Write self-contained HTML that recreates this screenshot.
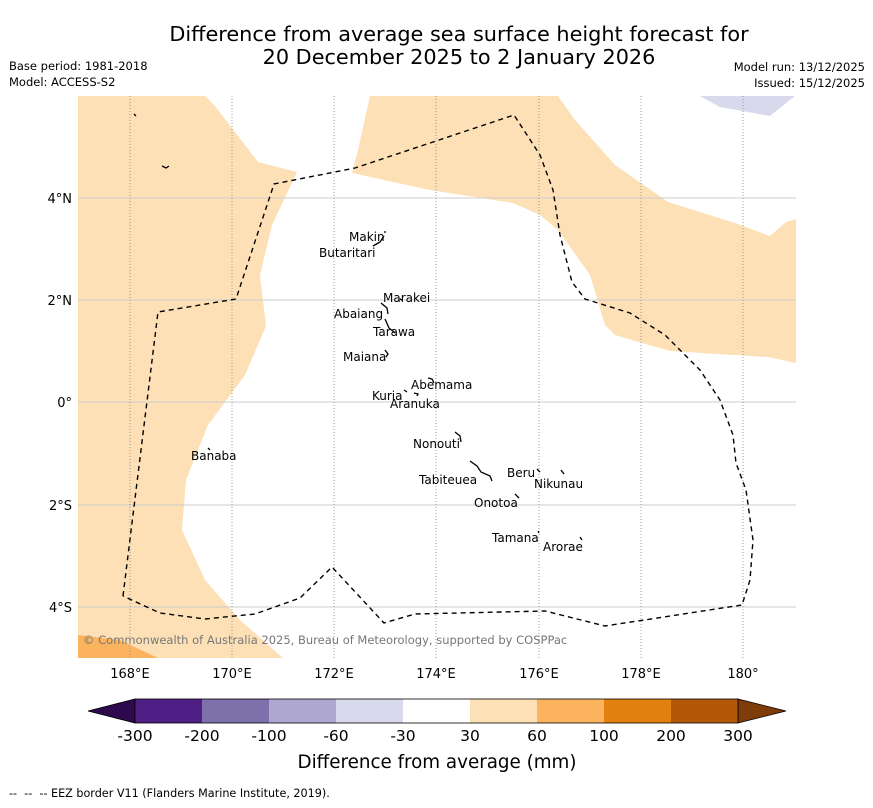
<!DOCTYPE html>
<html><head><meta charset="utf-8"><style>
body{margin:0;background:#fff;font-family:"DejaVu Sans","Liberation Sans",sans-serif}
svg text{font-family:"DejaVu Sans","Liberation Sans",sans-serif}
</style></head><body>
<svg width="873" height="804" viewBox="0 0 873 804" xmlns="http://www.w3.org/2000/svg">
<text x="459" y="41" font-size="20.8" text-anchor="middle">Difference from average sea surface height forecast for</text>
<text x="459" y="64" font-size="20.8" text-anchor="middle">20 December 2025 to 2 January 2026</text>
<text x="9" y="70" font-size="11.5">Base period: 1981-2018</text>
<text x="9" y="86" font-size="11.5">Model: ACCESS-S2</text>
<text x="865" y="71" font-size="11.5" text-anchor="end">Model run: 13/12/2025</text>
<text x="865" y="87" font-size="11.5" text-anchor="end">Issued: 15/12/2025</text>
<g>
<clipPath id="c"><rect x="78" y="96" width="718" height="562"/></clipPath>
<g clip-path="url(#c)">
<path fill="#fde0b6" d="M78,96 L205,96 L215,106 L258,162 L297,172 L272,225 L260,275 L266,326 L245,375 L208,425 L186,480 L182,530 L205,580 L240,620 L283,658 L78,658Z"/>
<path fill="#fbb35e" d="M78,635 L120,640 L158,658 L78,658Z"/>
<path fill="#fde0b6" d="M370,96 L558,96 L575,120 L615,165 L668,202 L735,223 L770,236 L786,222 L796,219 L796,363 L768,357 L735,355 L670,351 L615,335 L605,325 L590,275 L558,230 L540,215 L513,203 L430,190 L352,173 L358,150Z"/>
<path fill="#d8d9ec" d="M700,96 L795,96 L770,116 L720,107Z"/>
</g>
<g stroke-width="1">
<g stroke="#ccc"><line x1="78" x2="796" y1="198" y2="198"/><line x1="78" x2="796" y1="300" y2="300"/><line x1="78" x2="796" y1="402" y2="402"/><line x1="78" x2="796" y1="505" y2="505"/><line x1="78" x2="796" y1="607" y2="607"/></g>
<g stroke="#999" stroke-dasharray="1,2"><line x1="130" x2="130" y1="96" y2="658"/><line x1="232" x2="232" y1="96" y2="658"/><line x1="334" x2="334" y1="96" y2="658"/><line x1="436" x2="436" y1="96" y2="658"/><line x1="539" x2="539" y1="96" y2="658"/><line x1="641" x2="641" y1="96" y2="658"/><line x1="743" x2="743" y1="96" y2="658"/></g>
</g>
<path fill="none" stroke="#000" stroke-width="1.4" stroke-dasharray="5,4" d="M123,596 L158,312 L236,299 L274,184 L355,168 L514,115 L540,155 L553,190 L560,235 L572,282 L585,299 L630,313 L665,335 L700,370 L720,400 L733,435 L736,463 L746,490 L753,540 L750,580 L742,605 L605,626 L545,611 L415,614 L384,623 L332,567 L300,598 L255,614 L205,619 L160,613 L123,596"/>
<g fill="none" stroke="#000" stroke-width="1.3">
<path d="M373,246 L380,242 L384,236 M385,231 L385,233"/><path d="M381,303 L387,308 L388,314 M385,319 L389,328 L395,333"/><path d="M385,350 L388,354 L386,357"/><path d="M428,378 L432,379 L434,383 M404,390 L407,392 M414,393 L418,394 L417,396"/><path d="M455,432 L460,436 L461,442"/><path d="M470,461 L477,466 L481,472 L490,476 L492,481"/><path d="M515,494 L519,498"/><path d="M537,469 L540,472 M561,470 L564,474"/><path d="M538,531 L539,533 M580,537 L582,540"/><path d="M134,114 L136,116 M162,166 L166,168 L169,166 M208,448 L210,450 M400,299 L402,300"/>
</g>
<g font-size="12">
<text x="349" y="241">Makin</text><text x="319" y="257">Butaritari</text><text x="383" y="302">Marakei</text><text x="334" y="318">Abaiang</text><text x="373" y="336">Tarawa</text><text x="343" y="361">Maiana</text><text x="411" y="389">Abemama</text><text x="372" y="400">Kuria</text><text x="390" y="408">Aranuka</text><text x="413" y="448">Nonouti</text><text x="191" y="460">Banaba</text><text x="507" y="477">Beru</text><text x="419" y="484">Tabiteuea</text><text x="534" y="488">Nikunau</text><text x="474" y="507">Onotoa</text><text x="492" y="542">Tamana</text><text x="543" y="551">Arorae</text>
</g>
<text x="83" y="644" font-size="11.5" fill="#777">© Commonwealth of Australia 2025, Bureau of Meteorology, supported by COSPPac</text>
<g font-size="13" text-anchor="end">
<text x="72" y="203">4°N</text><text x="72" y="305">2°N</text><text x="72" y="407">0°</text><text x="72" y="510">2°S</text><text x="72" y="612">4°S</text>
</g>
<g font-size="13" text-anchor="middle">
<text x="130" y="678">168°E</text><text x="232" y="678">170°E</text><text x="334" y="678">172°E</text><text x="436" y="678">174°E</text><text x="539" y="678">176°E</text><text x="641" y="678">178°E</text><text x="743" y="678">180°</text>
</g>
</g>
<g id="cb"></g>
<text x="437" y="768" font-size="18.3" text-anchor="middle">Difference from average (mm)</text>
<text x="9" y="797" font-size="11.2" xml:space="preserve" style="white-space:pre">--  --  -- EEZ border V11 (Flanders Marine Institute, 2019).</text>
</svg>
<script>
const cbColors=["#4f1f85","#7e70ab","#aea8d1","#d8d9ec","#ffffff","#fde0b6","#fbb35e","#e2810f","#b35806"];
const cbLabels=["-300","-200","-100","-60","-30","30","60","100","200","300"];
const cbUnder="#2d0a4e", cbOver="#7f3b08";
const NS="http://www.w3.org/2000/svg";
const g=document.getElementById('cb');
const x0=135,x1=738,y0=699,h=24,w=(x1-x0)/cbColors.length;
function mk(t,a){const e=document.createElementNS(NS,t);for(const k in a)e.setAttribute(k,a[k]);g.appendChild(e);return e;}
let u=mk('polygon',{points:`${x0},${y0} ${x0},${y0+h} 88,${y0+h/2}`,fill:cbUnder,stroke:'#000','stroke-width':0.8});


let o=mk('polygon',{points:`${x1},${y0} ${x1},${y0+h} 786,${y0+h/2}`,fill:cbOver,stroke:'#000','stroke-width':0.8});


cbColors.forEach((c,i)=>{const r=mk('rect',{x:x0+i*w,y:y0,width:w,height:h,fill:c});

});
mk('rect',{x:x0,y:y0,width:x1-x0,height:h,fill:'none',stroke:'#000','stroke-width':0.8});
cbLabels.forEach((l,i)=>{const t=mk('text',{x:x0+i*w,y:741,'font-size':15.5,'text-anchor':'middle'});t.textContent=l;

});
</script>
</body></html>
